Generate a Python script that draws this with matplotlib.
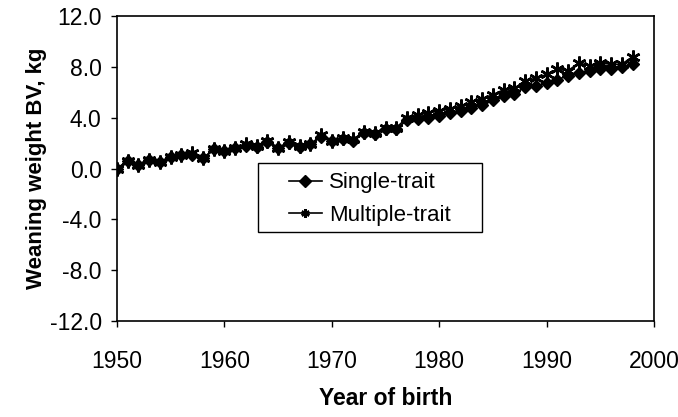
import matplotlib
matplotlib.use("Agg")
import matplotlib.pyplot as plt
from matplotlib.patches import Rectangle
from matplotlib.font_manager import fontManager

names = {f.name for f in fontManager.ttflist}
base = "Liberation Sans" if "Liberation Sans" in names else "DejaVu Sans"

years = list(range(1950, 1999))
single_trait = [0.0, 0.6, 0.3, 0.7, 0.5, 0.9, 1.1, 1.1, 0.8, 1.5,
                1.4, 1.6, 1.8, 1.7, 2.1, 1.6, 2.0, 1.7, 1.9, 2.5,
                2.2, 2.3, 2.2, 2.8, 2.7, 3.1, 3.1, 3.8, 3.9, 4.0,
                4.1, 4.4, 4.5, 4.8, 5.0, 5.4, 5.7, 5.9, 6.4, 6.5,
                6.7, 7.0, 7.3, 7.5, 7.7, 7.8, 7.8, 8.0, 8.2]
multiple_trait = [0.0, 0.6, 0.3, 0.7, 0.5, 0.9, 1.1, 1.2, 0.8, 1.5,
                  1.4, 1.6, 1.9, 1.8, 2.2, 1.6, 2.1, 1.8, 1.9, 2.6,
                  2.2, 2.4, 2.3, 2.9, 2.8, 3.2, 3.2, 4.0, 4.2, 4.4,
                  4.5, 4.7, 4.9, 5.2, 5.5, 5.8, 6.2, 6.3, 6.9, 7.1,
                  7.4, 7.8, 7.7, 8.3, 8.1, 8.3, 8.2, 8.2, 8.8]

xticks = [1950, 1960, 1970, 1980, 1990, 2000]
yticks = [-12, -8, -4, 0, 4, 8, 12]

fig = plt.figure(figsize=(6.78, 4.17), dpi=100)
ax = fig.add_axes([117/678, 1-321/417, (654-117)/678, (321-16)/417])

ax.plot(years, single_trait, color="black", lw=1.2, marker="D", ms=6,
        mfc="black", mec="black", label="Single-trait")
ax.plot(years, multiple_trait, color="black", lw=1.2, marker=(6, 2, 0), ms=10,
        mew=1.8, mfc="black", mec="black", label="Multiple-trait")

ax.set_xlim(1950, 2000)
ax.set_ylim(-12, 12)
ax.set_xticks(xticks)
ax.set_yticks(yticks)
ax.set_yticklabels([f"{v:.1f}" for v in yticks])
ax.tick_params(direction="out", length=4, width=1, labelsize=16.5)
ax.tick_params(axis="x", pad=17)
ax.tick_params(axis="y", pad=7)
for lab in ax.get_xticklabels() + ax.get_yticklabels():
    lab.set_fontfamily(base)
for s in ax.spines.values():
    s.set_linewidth(1.2)
    s.set_color("black")

ax.set_xlabel("Year of birth", fontsize=16.5, fontweight="bold", family=base, labelpad=10)
ax.set_ylabel("Weaning weight BV, kg", fontsize=16, fontweight="bold", family=base, labelpad=2)

# legend box (Excel-style, wide left padding)
ax.add_patch(Rectangle((0.2626, 0.2918), 0.417, 0.2262, transform=ax.transAxes,
                       facecolor="white", edgecolor="black", lw=1.0, zorder=4))
leg = ax.legend(loc="upper left", bbox_to_anchor=(0.3198, 0.487), borderaxespad=0,
                frameon=False, prop={"family": base, "size": 16}, handlelength=1.5,
                handletextpad=0.3, borderpad=0, labelspacing=0.5)
leg.set_zorder(5)
for h in leg.legend_handles:
    h.set_markersize(6)

fig.savefig("out.png", dpi=100)
